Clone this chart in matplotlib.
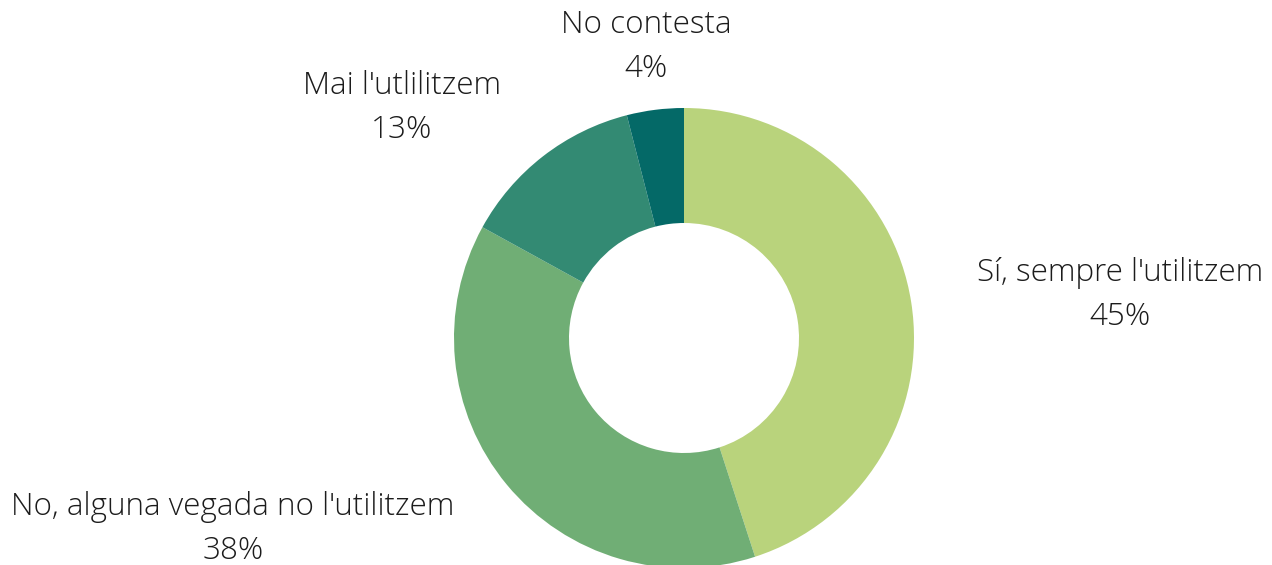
import matplotlib
matplotlib.use("Agg")
import matplotlib.pyplot as plt

# Survey answers and their shares (%)
categories = ["Sí, sempre l'utilitzem",
              "No, alguna vegada no l'utilitzem",
              "Mai l'utlilitzem",
              "No contesta"]
values = [45, 38, 13, 4]
colors = ["#B9D37C", "#70AE75", "#338A73", "#046967"]

W, H = 1272, 565
fig = plt.figure(figsize=(W / 100, H / 100), dpi=100)
ax = fig.add_axes([0, 0, 1, 1])

cx, cy, r = 684, H - 338, 230
ax.pie(values, colors=colors, startangle=90, counterclock=False,
       center=(cx, cy), radius=r, frame=True,
       wedgeprops=dict(width=r * 0.5, linewidth=0))
ax.set_xlim(0, W)
ax.set_ylim(0, H)
ax.set_aspect("equal")
ax.axis("off")

# label anchor points (pixel space, y measured from the top)
label_pos = [(1120, 273), (233, 507), (402, 86), (646, 25)]
font = dict(family=["Open Sans", "DejaVu Sans"], fontweight="light",
            fontsize=22.6, color="#1c1c1c", ha="center", va="center")
for name, val, (x, y) in zip(categories, values, label_pos):
    ax.text(x, H - y, name, **font)
    ax.text(x, H - y - 44, f"{val}%", **font)

fig.savefig("out.png", dpi=100, facecolor="white")
